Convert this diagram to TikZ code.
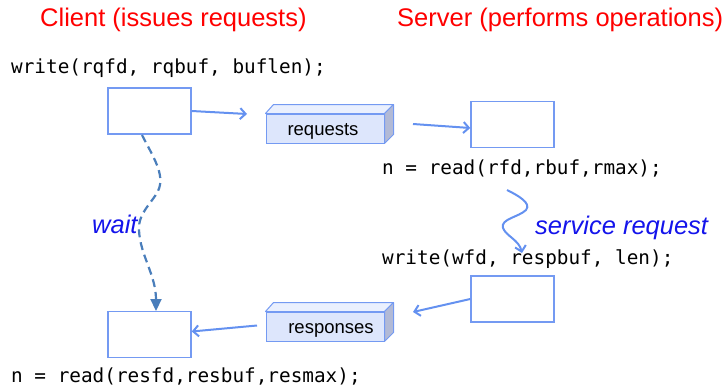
\documentclass[tikz,border=0pt]{standalone}
\usepackage{fontspec}
\setmainfont{Liberation Sans}
\newfontfamily\codefont{DejaVu Sans Mono}
\usetikzlibrary{arrows.meta,calc}

\definecolor{boxline}{RGB}{116,154,242}
\definecolor{flowline}{RGB}{100,145,240}
\definecolor{waitline}{RGB}{74,126,187}
\definecolor{cubefront}{RGB}{221,230,252}
\definecolor{cubetop}{RGB}{234,240,254}
\definecolor{cubeside}{RGB}{178,186,214}
\definecolor{titlered}{RGB}{255,0,0}
\definecolor{notebluetext}{RGB}{20,20,235}

\tikzset{
  x=1pt, y=-1pt,
  title/.style={anchor=base west, inner sep=0pt, text=titlered, font=\fontsize{25.5}{28}\selectfont},
  code/.style={anchor=base west, inner sep=0pt, font=\codefont\fontsize{19.35}{22}\selectfont},
  note/.style={anchor=base west, inner sep=0pt, text=notebluetext, font=\itshape\fontsize{25.5}{28}\selectfont},
  bufbox/.style={draw=boxline, line width=1.4pt, fill=white, minimum width=83pt, minimum height=46pt, inner sep=0pt},
  queue/.style={draw=boxline, line width=1pt, fill=cubefront, minimum width=118pt, minimum height=29pt, inner sep=0pt,
    text height=13pt, text depth=0pt, font=\fontsize{18.5}{20}\selectfont},
  flow/.style={draw=flowline, line width=2pt, -{Straight Barb[length=5.5pt,width=11pt]}},
  waitflow/.style={draw=waitline, line width=2.2pt, dash pattern=on 8pt off 5pt, -{Triangle[length=12pt,width=11pt]}},
}

\newcommand{\cubefaces}[1]{%
  \fill[cubetop, draw=boxline, line width=1pt, line join=round]
    (#1.north west) -- ++(8,-9) -- ($(#1.north east)+(9,-9)$) -- (#1.north east) -- cycle;
  \fill[cubeside, draw=boxline, line width=1pt, line join=round]
    (#1.north east) -- ++(9,-9) -- ($(#1.south east)+(9,-9)$) -- (#1.south east) -- cycle;
}

\begin{document}
\begin{tikzpicture}
\useasboundingbox (0,0) rectangle (724,388);

% column titles
\node[title] (tclient) at (40,27) {Client (issues requests)};
\node[title] (tserver) at (397,27) {Server (performs operations)};

% system calls
\node[code] (wreq) at (11,74) {write(rqfd, rqbuf, buflen);};
\node[code] (rreq) at (382,174) {n = read(rfd,rbuf,rmax);};
\node[code] (wresp) at (382,264) {write(wfd, respbuf, len);};
\node[code] (rresp) at (11,382) {n = read(resfd,resbuf,resmax);};

% user buffers
\node[bufbox] (cbuf1) at (149.5,111) {};
\node[bufbox] (sbuf1) at (512.5,124.5) {};
\node[bufbox] (sbuf2) at (512.5,299) {};
\node[bufbox] (cbuf2) at (149.5,334.5) {};

% kernel queues
\node[queue] (reqq) at (325,128.5) {\hspace{-4pt}requests};
\cubefaces{reqq}
\node[queue] (respq) at (325,326.5) {\hspace{12pt}responses};
\cubefaces{respq}

% free arrow ends
\coordinate (reqin) at (247,114);
\coordinate (reqout) at (413,124);
\coordinate (respin) at (413,312);
\coordinate (respout) at (257,325.5);
\coordinate (svcstart) at (507,190);
\coordinate (svcend) at (522,253);
\coordinate (waitstart) at (142,135);
\coordinate (waitend) at (156,311);

% data flow
\draw[flow] (cbuf1.east) -- (reqin);
\draw[flow] (reqout) -- ($(sbuf1.west)+(0,3.5)$);
\draw[flow] (sbuf2.west) -- (respin);
\draw[flow] (respout) -- ($(cbuf2.east)+(0,-3)$);

% service request squiggle
\draw[flow] (svcstart) .. controls (517,195) and (532,203) .. (526,210)
  .. controls (519,217) and (500,219) .. (503,228)
  .. controls (506,236) and (519,240) .. (svcend);
\node[note] (svc) at (535,234) {service request};

% client waits for the response
\draw[waitflow] (waitstart) .. controls (152,155) and (166,175) .. (158,191)
  .. controls (152,203) and (138,213) .. (139,230)
  .. controls (140,255) and (156,275) .. (waitend);
\node[note] (wait) at (92,233) {wait};
\end{tikzpicture}
\end{document}
